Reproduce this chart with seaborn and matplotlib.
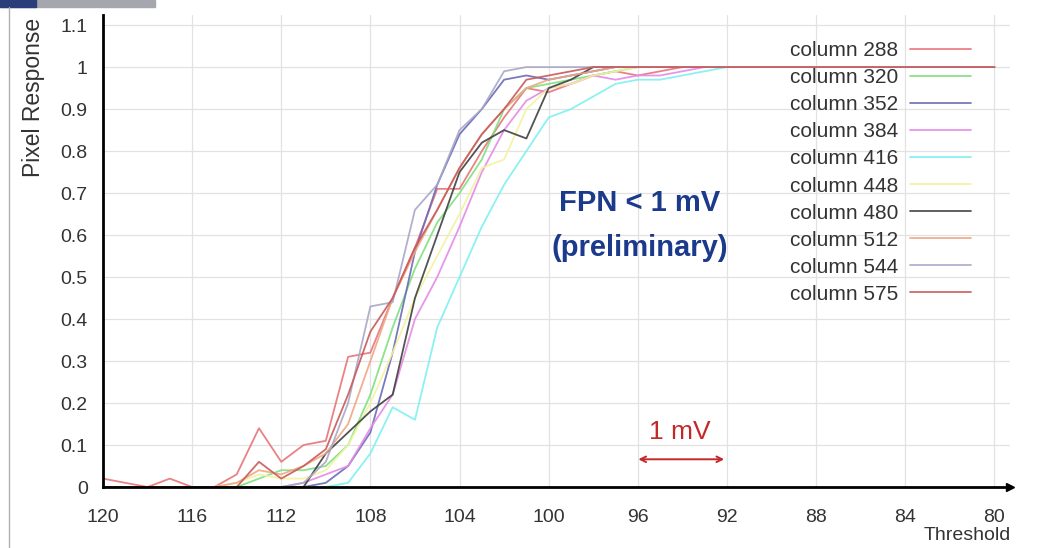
import numpy as np
import pandas as pd
import matplotlib
matplotlib.use("Agg")
import matplotlib.pyplot as plt
import seaborn as sns

# thresholds (x axis, decreasing to the right)
thresholds = list(range(120, 79, -1))

col_288 = [0.02, 0.01, 0.00, 0.02, 0.00, 0.00, 0.03, 0.14, 0.06, 0.10,
           0.11, 0.31, 0.32, 0.45, 0.57, 0.71, 0.71, 0.80, 0.88, 0.95,
           0.94, 0.96, 0.98, 0.99, 0.98, 0.99, 1.00, 1.00, 1.00, 1.00,
           1.00, 1.00, 1.00, 1.00, 1.00, 1.00, 1.00, 1.00, 1.00, 1.00, 1.00]
col_320 = [0.00, 0.00, 0.00, 0.00, 0.00, 0.00, 0.00, 0.02, 0.04, 0.04,
           0.05, 0.10, 0.22, 0.38, 0.52, 0.63, 0.70, 0.78, 0.90, 0.95,
           0.96, 0.97, 0.98, 0.99, 1.00, 1.00, 1.00, 1.00, 1.00, 1.00,
           1.00, 1.00, 1.00, 1.00, 1.00, 1.00, 1.00, 1.00, 1.00, 1.00, 1.00]
col_352 = [0.00, 0.00, 0.00, 0.00, 0.00, 0.00, 0.00, 0.00, 0.00, 0.00,
           0.01, 0.05, 0.13, 0.32, 0.56, 0.72, 0.84, 0.90, 0.97, 0.98,
           0.97, 0.98, 0.99, 1.00, 1.00, 1.00, 1.00, 1.00, 1.00, 1.00,
           1.00, 1.00, 1.00, 1.00, 1.00, 1.00, 1.00, 1.00, 1.00, 1.00, 1.00]
col_384 = [0.00, 0.00, 0.00, 0.00, 0.00, 0.00, 0.00, 0.00, 0.00, 0.01,
           0.03, 0.05, 0.14, 0.22, 0.40, 0.50, 0.62, 0.75, 0.85, 0.92,
           0.95, 0.96, 0.98, 0.97, 0.98, 0.98, 0.99, 1.00, 1.00, 1.00,
           1.00, 1.00, 1.00, 1.00, 1.00, 1.00, 1.00, 1.00, 1.00, 1.00, 1.00]
col_416 = [0.00, 0.00, 0.00, 0.00, 0.00, 0.00, 0.00, 0.00, 0.00, 0.00,
           0.00, 0.01, 0.08, 0.19, 0.16, 0.38, 0.50, 0.62, 0.72, 0.80,
           0.88, 0.90, 0.93, 0.96, 0.97, 0.97, 0.98, 0.99, 1.00, 1.00,
           1.00, 1.00, 1.00, 1.00, 1.00, 1.00, 1.00, 1.00, 1.00, 1.00, 1.00]
col_448 = [0.00, 0.00, 0.00, 0.00, 0.00, 0.00, 0.01, 0.03, 0.02, 0.02,
           0.04, 0.10, 0.20, 0.32, 0.45, 0.55, 0.65, 0.76, 0.78, 0.90,
           0.95, 0.96, 0.98, 0.99, 1.00, 1.00, 1.00, 1.00, 1.00, 1.00,
           1.00, 1.00, 1.00, 1.00, 1.00, 1.00, 1.00, 1.00, 1.00, 1.00, 1.00]
col_480 = [0.00, 0.00, 0.00, 0.00, 0.00, 0.00, 0.00, 0.00, 0.00, 0.00,
           0.08, 0.13, 0.18, 0.22, 0.45, 0.60, 0.75, 0.82, 0.85, 0.83,
           0.95, 0.97, 1.00, 1.00, 1.00, 1.00, 1.00, 1.00, 1.00, 1.00,
           1.00, 1.00, 1.00, 1.00, 1.00, 1.00, 1.00, 1.00, 1.00, 1.00, 1.00]
col_512 = [0.00, 0.00, 0.00, 0.00, 0.00, 0.00, 0.01, 0.04, 0.03, 0.05,
           0.08, 0.15, 0.30, 0.45, 0.56, 0.66, 0.76, 0.84, 0.90, 0.95,
           0.97, 0.98, 0.99, 1.00, 1.00, 1.00, 1.00, 1.00, 1.00, 1.00,
           1.00, 1.00, 1.00, 1.00, 1.00, 1.00, 1.00, 1.00, 1.00, 1.00, 1.00]
col_544 = [0.00, 0.00, 0.00, 0.00, 0.00, 0.00, 0.00, 0.00, 0.00, 0.01,
           0.06, 0.20, 0.43, 0.44, 0.66, 0.72, 0.85, 0.90, 0.99, 1.00,
           1.00, 1.00, 1.00, 1.00, 1.00, 1.00, 1.00, 1.00, 1.00, 1.00,
           1.00, 1.00, 1.00, 1.00, 1.00, 1.00, 1.00, 1.00, 1.00, 1.00, 1.00]
col_575 = [0.00, 0.00, 0.00, 0.00, 0.00, 0.00, 0.00, 0.06, 0.02, 0.05,
           0.09, 0.22, 0.37, 0.45, 0.57, 0.66, 0.76, 0.84, 0.90, 0.97,
           0.98, 0.99, 1.00, 1.00, 1.00, 1.00, 1.00, 1.00, 1.00, 1.00,
           1.00, 1.00, 1.00, 1.00, 1.00, 1.00, 1.00, 1.00, 1.00, 1.00, 1.00]

series_names = ["column 288", "column 320", "column 352", "column 384", "column 416",
                "column 448", "column 480", "column 512", "column 544", "column 575"]
series_values = [col_288, col_320, col_352, col_384, col_416,
                 col_448, col_480, col_512, col_544, col_575]
series_colors = ["#e87478", "#7ee07e", "#6a6ab8", "#e68ae6", "#7ef0f0",
                 "#f2f2a0", "#404040", "#f0a684", "#a8a8c8", "#c85a5a"]

x_ticks = [120, 116, 112, 108, 104, 100, 96, 92, 88, 84, 80]
y_ticks = [0, 0.1, 0.2, 0.3, 0.4, 0.5, 0.6, 0.7, 0.8, 0.9, 1.0, 1.1]
y_tick_labels = ["0", "0.1", "0.2", "0.3", "0.4", "0.5", "0.6", "0.7", "0.8", "0.9", "1", "1.1"]

df = pd.DataFrame({
    "Threshold": thresholds * len(series_names),
    "Response": [v for vals in series_values for v in vals],
    "Column": [n for n in series_names for _ in thresholds],
})

sns.set_style("whitegrid")
plt.rcParams["font.family"] = ["Liberation Sans", "DejaVu Sans"]

fig = plt.figure(figsize=(10.38, 5.48), dpi=100)
ax = fig.add_axes([0.0992, 0.1113, 0.8738, 0.8613])

sns.lineplot(data=df, x="Threshold", y="Response", hue="Column",
             palette=dict(zip(series_names, series_colors)),
             linewidth=1.3, alpha=0.9, ax=ax, legend=True)

ax.set_xlim(120, 79.3)
ax.set_ylim(0, 1.124)
ax.set_xticks(x_ticks)
ax.set_xticklabels([str(t) for t in x_ticks], fontsize=14, color="#333333")
ax.set_yticks(y_ticks)
ax.set_yticklabels(y_tick_labels, fontsize=14, color="#333333")
ax.tick_params(axis="both", direction="in", length=9, width=1.6, color="black")
ax.tick_params(axis="x", pad=16)
ax.tick_params(axis="y", pad=11)
ax.grid(True, color="#e2e2e2", linewidth=0.9)

for s in ["top", "right"]:
    ax.spines[s].set_visible(False)
for s in ["left", "bottom"]:
    ax.spines[s].set_color("black")
    ax.spines[s].set_linewidth(2)
ax.plot(1, 0, ">k", markersize=6, transform=ax.get_yaxis_transform(), clip_on=False)
ax.plot(0, 1.0, "^k", markersize=5, transform=ax.get_xaxis_transform(), clip_on=False)

ax.set_xlabel("Threshold", fontsize=14, color="#333333")
ax.xaxis.set_label_coords(0.953, -0.085)
ax.set_ylabel("Pixel Response", fontsize=16.5, color="#333333")
ax.yaxis.set_label_coords(-0.064, 0.826)

leg = ax.legend(loc="upper right", bbox_to_anchor=(0.973, 0.975), frameon=False,
                markerfirst=False, fontsize=15, handlelength=2.9,
                labelspacing=0.385, handletextpad=0.6, borderpad=0.2)
for t in leg.get_texts():
    t.set_color("#333333")

ax.text(95.9, 0.676, "FPN < 1 mV", fontsize=21, fontweight="bold", color="#1c3a8c",
        ha="center", va="center")
ax.text(95.9, 0.569, "(preliminary)", fontsize=21, fontweight="bold", color="#1c3a8c",
        ha="center", va="center")
ax.text(94.1, 0.13, "1 mV", fontsize=19, color="#c42828", ha="center", va="center")
ax.annotate("", xy=(92.0, 0.066), xytext=(96.1, 0.066),
            arrowprops=dict(arrowstyle="<->", color="#c42828", lw=1.4))

# screenshot frame remnants
fig.patches.append(plt.Rectangle((0, 0.987), 0.149, 0.013, transform=fig.transFigure,
                                 color="#a6a6ae", zorder=0))
fig.patches.append(plt.Rectangle((0, 0.987), 0.035, 0.013, transform=fig.transFigure,
                                 color="#2a3f7a", zorder=1))
fig.add_artist(plt.Line2D([0.009, 0.009], [0, 0.987], transform=fig.transFigure,
                          color="#b0b0b0", linewidth=1))

plt.savefig("out.png", dpi=100)
plt.close()
